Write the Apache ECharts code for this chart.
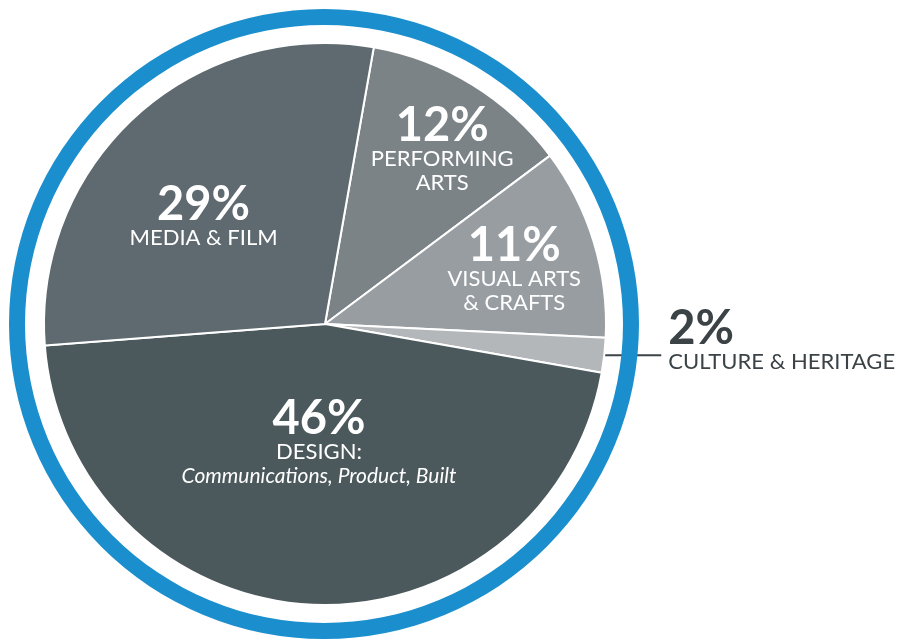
<!DOCTYPE html>
<html lang="en">

<head>
    <meta charset="UTF-8">
    <title>creative industries pie</title>
</head>
<style>
    html, body {
        margin: 0;
        padding: 0;
        background: #fff;
    }

    .main {
        width: 904px;
        height: 639px;
    }
</style>

<body>
    <div class="main" id="main"></div>
</body>
<script src="https://cdn.jsdelivr.net/npm/echarts@6/dist/echarts.min.js"></script>
<script>
    // data
    const categories = ['Performing Arts', 'Visual Arts & Crafts', 'Culture & Heritage', 'Design', 'Media & Film'];
    const shares = [12, 11, 2, 46, 29];
    const titleLines = [['PERFORMING', 'ARTS'], ['VISUAL ARTS', '& CRAFTS'], ['CULTURE & HERITAGE'], ['DESIGN:'], ['MEDIA & FILM']];
    const subLines = ['', '', '', 'Communications, Product, Built', ''];

    const colorList = ['#7b8387', '#979da1', '#b3b7ba', '#4b585c', '#5e6a6f'];
    // nudge labels away from the default spot
    const labelShift = [[42, -52], [52, -12], [0, 7], [1, -24], [-25, -1]];

    const myChart = echarts.init(document.getElementById('main'));
    const font = 'Lato, "Noto Sans", sans-serif';

    const option = {
        backgroundColor: '#ffffff',
        animation: false,
        series: [
            {
                // blue ring round the pie
                type: 'pie',
                silent: true,
                center: [324, 324],
                radius: [299, 315],
                label: { show: false },
                labelLine: { show: false },
                itemStyle: { color: '#1b8fcd' },
                data: [{ value: 1, name: 'ring' }]
            },
            {
                type: 'pie',
                center: [325, 324],
                radius: [0, 281],
                startAngle: 80,
                clockwise: true,
                avoidLabelOverlap: false,
                itemStyle: {
                    borderColor: '#ffffff',
                    borderWidth: 2
                },
                label: {
                    show: true,
                    position: 'inside',
                    fontFamily: font,
                    formatter: function (p) {
                        const i = p.dataIndex;
                        let s = '{p|' + p.value + '%}';
                        titleLines[i].forEach(t => { s += '\n{n|' + t + '}'; });
                        if (subLines[i]) s += '\n{i|' + subLines[i] + '}';
                        return s;
                    },
                    rich: {
                        p: { color: '#fff', fontFamily: font, fontWeight: 'bold', fontSize: 47, lineHeight: 42 },
                        n: { color: '#fff', fontFamily: font, fontSize: 22, lineHeight: 24 },
                        i: { color: '#fff', fontFamily: font, fontStyle: 'italic', fontSize: 21, lineHeight: 25 }
                    }
                },
                labelLayout: function (params) {
                    const d = labelShift[params.dataIndex];
                    return { dx: d[0], dy: d[1] };
                },
                data: categories.map((name, i) => {
                    const item = {
                        name: name,
                        value: shares[i],
                        itemStyle: { color: colorList[i] }
                    };
                    if (i === 2) {
                        item.label = {
                            position: 'outside',
                            distanceToLabelLine: 7,
                            padding: [0, 0, 42, 0],
                            rich: {
                                p: { color: '#3b4347', fontFamily: font, fontWeight: 'bold', fontSize: 47, lineHeight: 42 },
                                n: { color: '#3b4347', fontFamily: font, fontSize: 22, lineHeight: 24 }
                            }
                        };
                        item.labelLine = {
                            show: true,
                            length: 0,
                            length2: 57,
                            smooth: false,
                            lineStyle: { color: '#3b4347', width: 2 }
                        };
                    }
                    return item;
                })
            }
        ]
    };

    myChart.setOption(option);
</script>

</html>
